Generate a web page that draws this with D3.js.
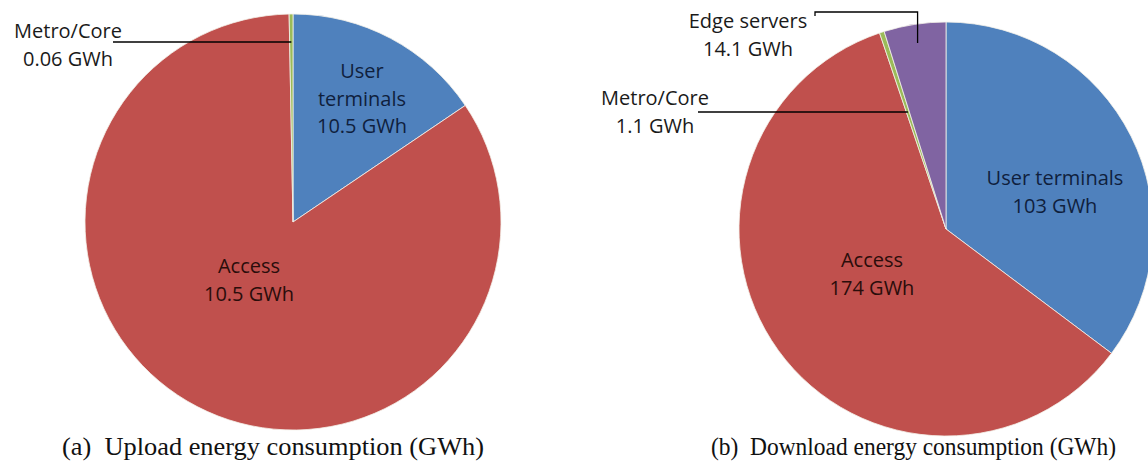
<!DOCTYPE html>
<html>
<head>
<meta charset="utf-8">
<script src="https://cdn.jsdelivr.net/npm/d3@7/dist/d3.min.js"></script>
<style>
  html, body { margin: 0; padding: 0; background: #fff; }
  svg { display: block; }
</style>
</head>
<body>
<script>
// ---------- data ----------
const uploadCategories   = ["User terminals", "Access", "Metro/Core"];
const uploadValues       = [10.5, 56.9, 0.2];          // slice sizes
const uploadLabels       = ["10.5 GWh", "10.5 GWh", "0.06 GWh"];

const downloadCategories = ["User terminals", "Access", "Metro/Core", "Edge servers"];
const downloadValues     = [103, 174, 1.1, 14.1];
const downloadLabels     = ["103 GWh", "174 GWh", "1.1 GWh", "14.1 GWh"];

const captions = ["(a)  Upload energy consumption (GWh)", "(b)  Download energy consumption (GWh)"];

const colorOf = {
  "User terminals": "#4F81BD",
  "Access": "#C0504D",
  "Metro/Core": "#9BBB59",
  "Edge servers": "#8064A2"
};

// ---------- layout (styles / placement, not data) ----------
const W = 1148, H = 467;
const svg = d3.select("body").append("svg").attr("width", W).attr("height", H);

const LABEL_FONT = "'Open Sans', 'Liberation Sans', sans-serif";

// label placement relative to each pie centre
const uploadLayout = [
  { lines: ["User", "terminals"], dx: 69, y0: -144, inside: true },
  { lines: ["Access"], dx: -44, y0: 51, inside: true },
  { lines: ["Metro/Core"], dx: -225, y0: -184, inside: false,
    leader: { fromX: -180, y: -180 } }
];
const downloadLayout = [
  { lines: ["User terminals"], dx: 109, y0: -44, inside: true },
  { lines: ["Access"], dx: -74, y0: 38, inside: true },
  { lines: ["Metro/Core"], dx: -291, y0: -124, inside: false,
    leader: { fromX: -248, y: -117 } },
  { lines: ["Edge servers"], dx: -198, y0: -201, inside: false,
    elbow: { fromX: -131, tickY: -213, y: -217, downTo: -186 } }
];

function drawPie(cx, cy, r, cats, vals, labels, layout, caption, capX0, capX1) {
  const g = svg.append("g").attr("transform", `translate(${cx},${cy})`);
  const data = cats.map((c, i) => ({ cat: c, value: vals[i], label: labels[i], lay: layout[i] }));
  const pie = d3.pie().sort(null).value(d => d.value).startAngle(0).endAngle(2 * Math.PI);
  const arcs = pie(data);
  const arc = d3.arc().innerRadius(0).outerRadius(r);

  g.selectAll("path.slice").data(arcs).enter().append("path")
    .attr("class", "slice")
    .attr("d", arc)
    .attr("fill", d => colorOf[d.data.cat])
    .attr("stroke", "#f4f1ea")
    .attr("stroke-width", 0.8)
    .attr("stroke-linejoin", "round");

  const lineH = 27.5;
  arcs.forEach(a => {
    const lay = a.data.lay;
    const allLines = lay.lines.concat([a.data.label]);
    const t = g.append("text")
      .attr("font-family", LABEL_FONT)
      .attr("font-size", 20)
      .attr("fill", lay.inside ? (a.data.cat === "Access" ? "#2a0d0b" : "#0f1f3d") : "#1a1a1a")
      .attr("text-anchor", "middle");
    allLines.forEach((ln, k) => {
      t.append("tspan").attr("x", lay.dx).attr("y", lay.y0 + k * lineH).text(ln);
    });

    const mid = (a.startAngle + a.endAngle) / 2;
    if (lay.leader) {
      // horizontal leader ending on the slice's mid-angle line
      const y = lay.leader.y;
      const xe = -y * Math.tan(mid);
      g.append("path")
        .attr("d", `M${lay.leader.fromX},${y}H${xe}`)
        .attr("stroke", "#000").attr("stroke-width", 1.3).attr("fill", "none");
    }
    if (lay.elbow) {
      const e = lay.elbow;
      const xe = -e.downTo * Math.tan(mid);
      g.append("path")
        .attr("d", `M${e.fromX},${e.tickY}V${e.y}H${xe}V${e.downTo}`)
        .attr("stroke", "#000").attr("stroke-width", 1.3).attr("fill", "none");
    }
  });

  svg.append("text")
    .attr("x", capX0).attr("y", 455)
    .attr("font-family", "'Liberation Serif', 'Times New Roman', serif")
    .attr("font-size", 25)
    .attr("fill", "#111")
    .attr("textLength", capX1 - capX0)
    .attr("lengthAdjust", "spacingAndGlyphs")
    .attr("xml:space", "preserve")
    .style("white-space", "pre")
    .text(caption);
}

drawPie(293, 222, 208, uploadCategories, uploadValues, uploadLabels, uploadLayout, captions[0], 62, 484);
drawPie(946, 229, 207, downloadCategories, downloadValues, downloadLabels, downloadLayout, captions[1], 711, 1116);
</script>
</body>
</html>
